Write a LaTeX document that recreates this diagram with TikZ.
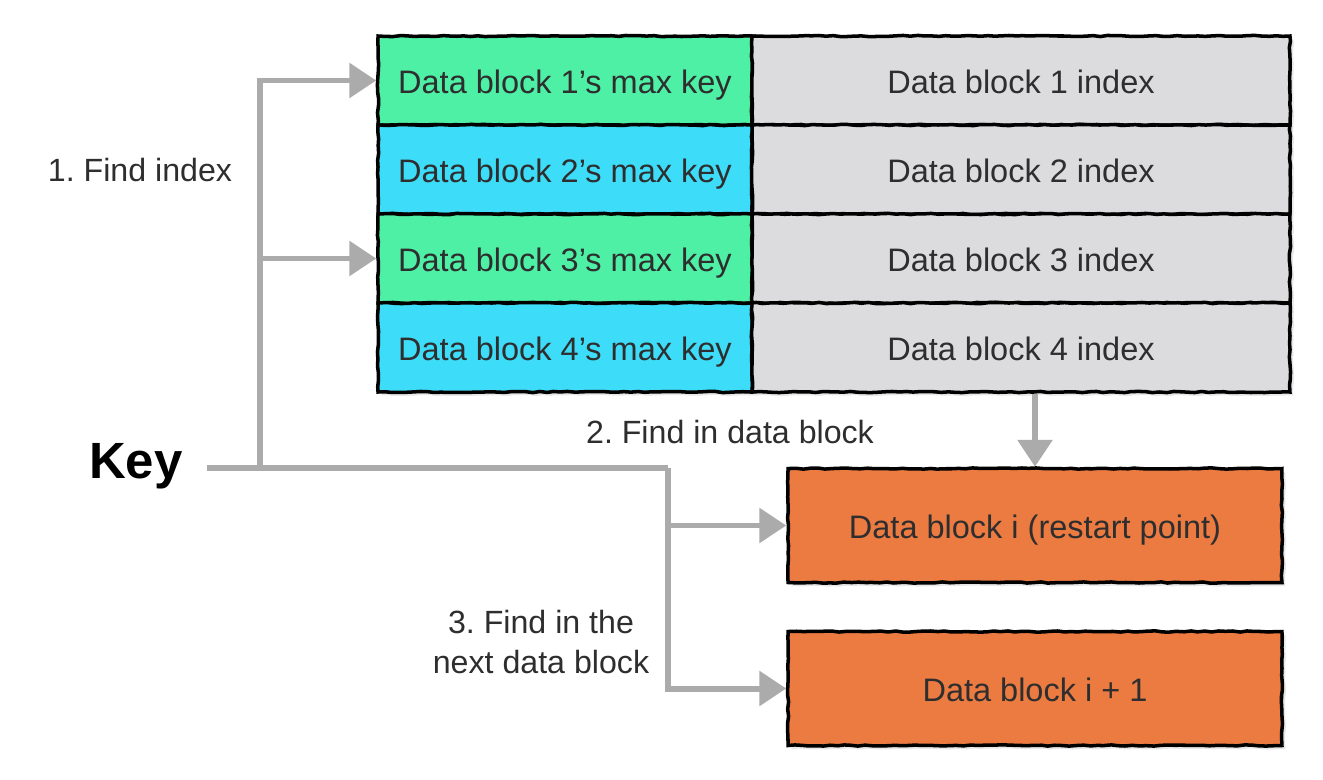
\documentclass[tikz,border=0pt]{standalone}
\usepackage{fontspec}
\setmainfont{Liberation Sans}
\usetikzlibrary{arrows.meta,shadows,calc,decorations.pathmorphing}
\definecolor{kgreen}{HTML}{4EF0A6}
\definecolor{kcyan}{HTML}{3DDCF8}
\definecolor{kgray}{HTML}{DCDCDE}
\definecolor{korange}{HTML}{EC7B42}
\definecolor{arrowgray}{HTML}{ABABAB}
\definecolor{txt}{HTML}{2E2E2E}
\frenchspacing
\begin{document}
\begin{tikzpicture}[x=0.02cm,y=-0.02cm,
  cell/.style={draw=black, line width=2pt, minimum height=1.78cm, inner sep=0pt,
    font=\fontsize{18.5}{22}\selectfont, text=txt, text height=15pt, text depth=0pt,
    decoration={random steps, segment length=4pt, amplitude=0.35pt}, decorate,
    drop shadow={opacity=0.18, shadow xshift=2pt, shadow yshift=-2pt}},
  keycell/.style={cell, minimum width=7.48cm},
  idxcell/.style={cell, fill=kgray, minimum width=10.76cm},
  blockbox/.style={cell, fill=korange, minimum width=9.88cm, minimum height=2.28cm},
  lbl/.style={font=\fontsize{18.3}{22.5}\selectfont, text=txt, align=center},
  garrow/.style={draw=arrowgray, line width=3.4pt, line join=miter,
    -{Triangle[length=0.54cm, width=0.68cm]}},
  gline/.style={draw=arrowgray, line width=3.4pt, line join=miter}
]
\useasboundingbox (0,0) rectangle (1323,779);
% key table
\node[keycell, fill=kgreen] (k1) at (565,80.5) {Data block 1’s max key};
\node[keycell, fill=kcyan]  (k2) at (565,169.5) {Data block 2’s max key};
\node[keycell, fill=kgreen] (k3) at (565,258.5) {Data block 3’s max key};
\node[keycell, fill=kcyan]  (k4) at (565,347.5) {Data block 4’s max key};
\node[idxcell] (i1) at (1021,80.5) {Data block 1 index};
\node[idxcell] (i2) at (1021,169.5) {Data block 2 index};
\node[idxcell] (i3) at (1021,258.5) {Data block 3 index};
\node[idxcell] (i4) at (1021,347.5) {Data block 4 index};
% data blocks
\node[blockbox] (b1) at (1035,525.5) {Data block i (restart point)};
\node[blockbox] (b2) at (1035,688.5) {Data block i + 1};
% key
\node[font=\fontsize{29}{34}\selectfont\bfseries, inner sep=0pt, anchor=east] (key) at (183,466) {Key};
% labels
\node[lbl] (l1) at (140,170) {1. Find index};
\node[lbl] (l2) at (730,432) {2. Find in data block};
\node[lbl] (l3) at (541,642) {3. Find in the\\next data block};
% connectors
\coordinate (j1) at (260,468);
\coordinate (j2) at (668,468);
\coordinate (j3) at (668,525.5);
\draw[gline] ($(key.east)+(24,2)$) -- (j1) -- (j2);
\draw[garrow] (j1) |- (k1.west);
\draw[garrow] (j1 |- k3.west) -- (k3.west);
\draw[garrow] (j2) |- (b2.west);
\draw[garrow] (j3) -- (b1.west);
\draw[garrow] (i4.south -| b1.north) -- (b1.north);
\end{tikzpicture}
\end{document}
